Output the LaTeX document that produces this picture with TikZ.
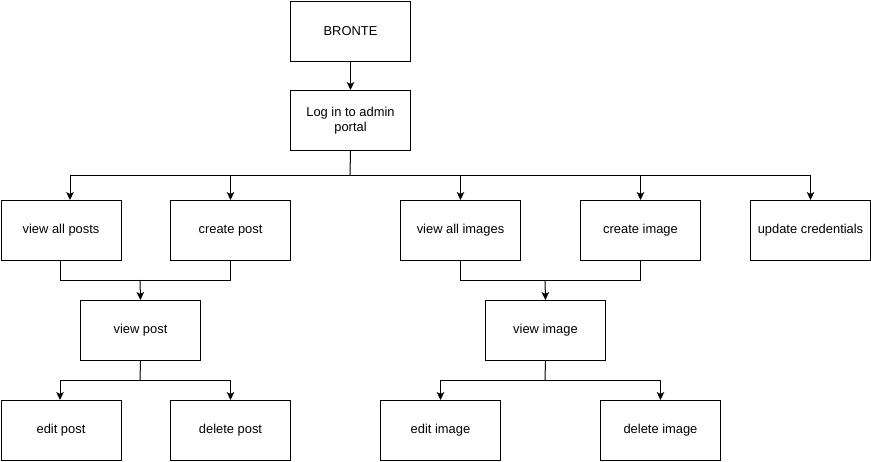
\documentclass[tikz,border=0pt]{standalone}
\usepackage{fontspec}
\setmainfont{Liberation Sans}
\usetikzlibrary{arrows.meta}
\begin{document}
\begin{tikzpicture}[x=1pt,y=-1pt,
  box/.style={draw,line width=1pt,minimum width=120pt,minimum height=60pt,inner sep=0pt,align=center,font=\fontsize{12.9}{15}\selectfont,anchor=north west},
  conn/.style={line width=1pt},
  arr/.style={line width=1pt,-{Stealth[length=8pt,width=7.5pt,inset=2pt]}}]
\useasboundingbox (0,0) rectangle (871,461);
\node[box] (bronte) at (290,0.5) {BRONTE};
\node[box] (login) at (290,90) {Log in to admin\\portal};
\node[box] (vap) at (0.5,200) {view all posts};
\node[box] (cp) at (170,200) {create post};
\node[box] (vai) at (400,200) {view all images};
\node[box] (ci) at (580,200) {create image};
\node[box] (uc) at (750,200) {update credentials};
\node[box] (vp) at (80,300) {view post};
\node[box] (vi) at (485,300) {view image};
\node[box] (ep) at (0.5,400) {edit post};
\node[box] (dp) at (170,400) {delete post};
\node[box] (ei) at (380,400) {edit image};
\node[box] (di) at (600,400) {delete image};
\coordinate (j1) at (350,175);
\coordinate (j2) at (140,280);
\coordinate (j3) at (545,280);
\coordinate (j4) at (140,380);
\coordinate (j5) at (545,380);
\draw[arr] (bronte) -- (login);
\draw[conn] (login.south) -- (j1);
\draw[arr] (j1) -| (70,200);
\draw[arr] (j1) -| (cp.north);
\draw[arr] (j1) -| (vai.north);
\draw[arr] (j1) -| (ci.north);
\draw[arr] (j1) -| (uc.north);
\draw[conn] (60,260) |- (j2);
\draw[conn] (cp.south) |- (j2);
\draw[arr] (j2) -- (vp.north);
\draw[conn] (vai.south) |- (j3);
\draw[conn] (ci.south) |- (j3);
\draw[arr] (j3) -- (vi.north);
\draw[conn] (vp.south) -- (j4);
\draw[arr] (j4) -| (60,400);
\draw[arr] (j4) -| (dp.north);
\draw[conn] (vi.south) -- (j5);
\draw[arr] (j5) -| (ei.north);
\draw[arr] (j5) -| (di.north);
\end{tikzpicture}
\end{document}
